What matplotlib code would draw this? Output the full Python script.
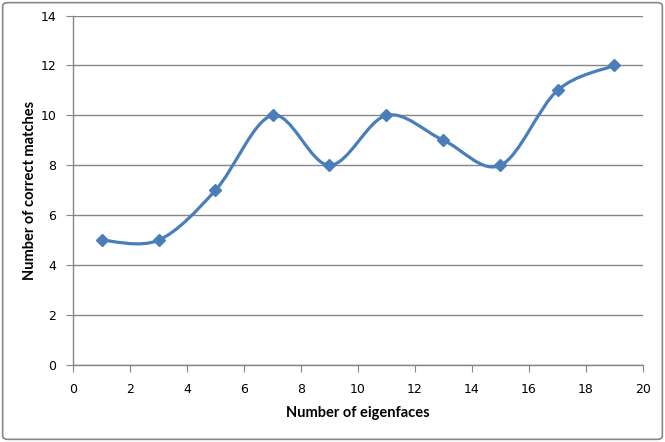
import numpy as np
import matplotlib.pyplot as plt
from matplotlib.path import Path
from matplotlib.patches import PathPatch, FancyBboxPatch

# data
eigenfaces = [1, 3, 5, 7, 9, 11, 13, 15, 17, 19]
matches = [5, 5, 7, 10, 8, 10, 9, 8, 11, 12]
x_ticks = [0, 2, 4, 6, 8, 10, 12, 14, 16, 18, 20]
y_ticks = [0, 2, 4, 6, 8, 10, 12, 14]

line_col = '#4A7EBB'
grid_col = '#868686'

fig = plt.figure(figsize=(6.65, 4.42), dpi=100)
ax = fig.add_axes([73 / 665, 77 / 442, 570 / 665, 349.5 / 442])

# outer chart border
fig.patches.append(FancyBboxPatch((0.004, 0.006), 0.992, 0.988,
                                  boxstyle='round,pad=0,rounding_size=0.008',
                                  transform=fig.transFigure, fill=False,
                                  edgecolor=grid_col, linewidth=1.2))

# smoothed line (Excel style bezier, tension 1/6)
pts = np.column_stack([eigenfaces, matches]).astype(float)
n = len(pts)
verts = [pts[0]]
codes = [Path.MOVETO]
for i in range(n - 1):
    p0 = pts[i - 1] if i > 0 else pts[i]
    p1 = pts[i]
    p2 = pts[i + 1]
    p3 = pts[i + 2] if i + 2 < n else pts[i + 1]
    verts += [p1 + (p2 - p0) / 6, p2 - (p3 - p1) / 6, p2]
    codes += [Path.CURVE4] * 3
ax.add_patch(PathPatch(Path(verts, codes), fill=False, edgecolor=line_col,
                       linewidth=2.3, capstyle='round', joinstyle='round', zorder=3))
ax.plot(eigenfaces, matches, linestyle='none', marker='D', markersize=6,
        color=line_col, zorder=4)

ax.set_xlim(0, 20)
ax.set_ylim(0, 14)
ax.set_xticks(x_ticks)
ax.set_yticks(y_ticks)
ax.yaxis.grid(True, color=grid_col, linewidth=1)
ax.set_axisbelow(True)
for s in ['top', 'right']:
    ax.spines[s].set_visible(False)
for s in ['left', 'bottom']:
    ax.spines[s].set_color(grid_col)
    ax.spines[s].set_linewidth(1)
ax.tick_params(axis='both', direction='out', length=5, color=grid_col,
               labelsize=9, labelcolor='black')
ax.tick_params(axis='x', pad=8)
ax.tick_params(axis='y', pad=7)

ax.set_xlabel('Number of eigenfaces', fontsize=10.5, fontweight='bold',
              family='Lato', va='center')
ax.set_ylabel('Number of correct matches', fontsize=10.5, fontweight='bold',
              family='Lato', va='center')
ax.xaxis.set_label_coords(0.5, (365 - 413) / 349.5)
ax.yaxis.set_label_coords((30 - 73) / 570, 0.5)

fig.savefig('out.png', dpi=100)
